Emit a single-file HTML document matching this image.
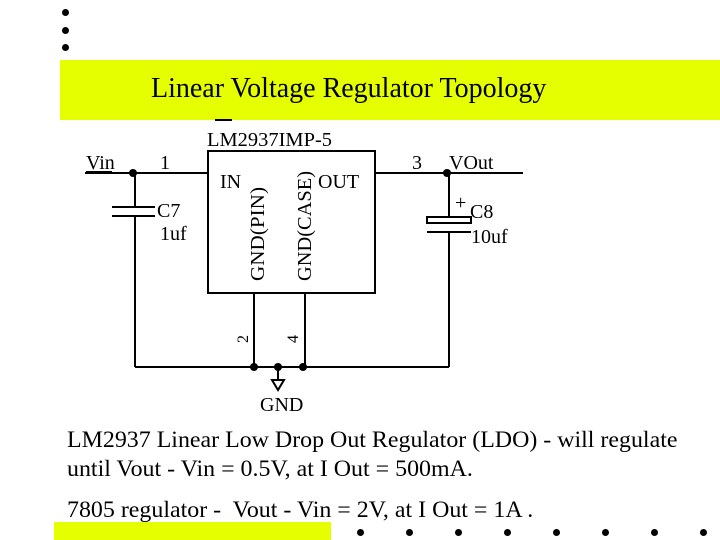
<!DOCTYPE html>
<html><head><meta charset="utf-8"><style>
body{margin:0;width:720px;height:540px;background:#fff;position:relative;overflow:hidden;font-family:"Liberation Serif",serif;}
.d{position:absolute;width:7px;height:7px;border-radius:50%;background:#000;}
.t{position:absolute;white-space:nowrap;color:#000;}
</style></head><body>
<div class="d" style="left:62px;top:9px"></div>
<div class="d" style="left:62px;top:27px"></div>
<div class="d" style="left:62px;top:44px"></div>
<div style="position:absolute;left:60px;top:60px;width:660px;height:60px;background:#e6ff00"></div>
<div class="t" style="left:151px;top:73px;font-size:28px">Linear Voltage Regulator Topology</div>
<svg style="position:absolute;left:0;top:0" width="720" height="540">
<g stroke="#000" stroke-width="2" fill="none">
<line x1="215" y1="120" x2="232" y2="120"/>
<rect x="208" y="151" width="167" height="142"/>
<line x1="85" y1="173" x2="208" y2="173"/>
<line x1="375" y1="173" x2="523" y2="173"/>
<line x1="135" y1="173" x2="135" y2="207"/>
<line x1="135" y1="216" x2="135" y2="367"/>
<line x1="112" y1="207" x2="155" y2="207"/>
<line x1="112" y1="216" x2="155" y2="216"/>
<line x1="449" y1="173" x2="449" y2="217"/>
<rect x="427" y="217" width="44" height="6"/>
<line x1="427" y1="232" x2="471" y2="232"/>
<line x1="449" y1="232" x2="449" y2="367"/>
<line x1="135" y1="367" x2="449" y2="367"/>
<line x1="254" y1="293" x2="254" y2="367"/>
<line x1="305" y1="293" x2="305" y2="367"/>
<line x1="278" y1="367" x2="278" y2="380"/>
<polygon points="272,380 284,380 278,390"/>
<line x1="86" y1="172" x2="112" y2="172"/>
</g>
<g fill="#000">
<circle cx="133" cy="173" r="4"/><circle cx="447" cy="173" r="4"/>
<circle cx="254" cy="367" r="4"/><circle cx="278" cy="367" r="4"/><circle cx="303" cy="367" r="4"/>
</g>
<g font-family="Liberation Serif" font-size="20" fill="#000">
<text x="207" y="146" textLength="125" lengthAdjust="spacingAndGlyphs">LM2937IMP-5</text>
<text x="86" y="169">Vin</text>
<text x="160" y="169">1</text>
<text x="412" y="169">3</text>
<text x="449" y="169">VOut</text>
<text x="220" y="188">IN</text>
<text x="318" y="188">OUT</text>
<text x="157" y="217">C7</text>
<text x="160" y="240">1uf</text>
<text x="455" y="209">+</text>
<text x="470" y="218">C8</text>
<text x="471" y="243">10uf</text>
<text x="260" y="411">GND</text>
<text transform="translate(264,281) rotate(-90)" textLength="94" lengthAdjust="spacingAndGlyphs">GND(PIN)</text>
<text transform="translate(311,281) rotate(-90)" textLength="110" lengthAdjust="spacingAndGlyphs">GND(CASE)</text>
<text transform="translate(248,343) rotate(-90)" font-size="16">2</text>
<text transform="translate(298,343) rotate(-90)" font-size="16">4</text>
</g>
</svg>
<div class="t" style="left:67px;top:425px;font-size:23px;line-height:29px;transform:scaleX(1.04);transform-origin:0 0">LM2937 Linear Low Drop Out Regulator (LDO) - will regulate<br>until Vout - Vin = 0.5V, at I Out = 500mA.</div>
<div class="t" style="left:67px;top:497px;font-size:23px;transform:scaleX(1.04);transform-origin:0 0">7805 regulator -&nbsp; Vout - Vin = 2V, at I Out = 1A .</div>
<div style="position:absolute;left:54px;top:522px;width:277px;height:18px;background:#e6ff00"></div>
<div class="d" style="left:357px;top:529px"></div>
<div class="d" style="left:406px;top:529px"></div>
<div class="d" style="left:455px;top:529px"></div>
<div class="d" style="left:504px;top:529px"></div>
<div class="d" style="left:553px;top:529px"></div>
<div class="d" style="left:602px;top:529px"></div>
<div class="d" style="left:651px;top:529px"></div>
<div class="d" style="left:700px;top:529px"></div>
</body></html>
